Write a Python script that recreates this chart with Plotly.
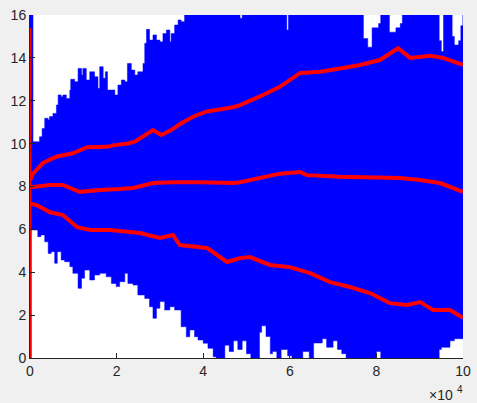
import plotly.graph_objects as go

# x positions are in units of 1e4 samples
upper_x = [0, 0.03, 0.069, 0.146, 0.22, 0.28, 0.34, 0.42, 0.45, 0.53, 0.61, 0.65, 0.72, 0.76, 0.84,
           0.92, 0.94, 1.03, 1.11, 1.19, 1.22, 1.30, 1.38, 1.49, 1.57, 1.61, 1.69, 1.74, 1.79, 1.88,
           1.96, 2.03, 2.11, 2.19, 2.25, 2.34, 2.42, 2.49, 2.61, 2.65, 2.69, 2.76, 2.84, 2.92, 3.0,
           3.07, 3.15, 3.23, 3.26, 3.34, 3.42, 3.49, 3.57,
           4.8, 4.85, 4.9, 5.9, 5.93, 5.97, 7.6, 7.7, 7.8, 7.9, 8.05,
           8.1, 8.25, 8.3, 8.45, 8.55, 8.6, 9.35, 9.45, 9.5, 9.55, 9.7, 9.75, 9.8, 9.9, 9.95, 10]
upper_y = [16, 16, 10.09, 10.09, 10.32, 10.71, 11.18, 11.1, 11.26, 11.41, 11.8, 12.27, 12.19, 12.27, 12.11,
           12.5, 13.0, 12.89, 13.51, 13.2, 13.51, 12.97, 13.35, 13.12, 12.58, 13.59, 13.05, 13.35, 12.5, 12.5,
           12.27, 12.73, 12.97, 12.89, 13.74, 13.43, 13.2, 13.35, 13.74, 14.68, 15.33, 14.83, 15.07, 14.83, 14.75,
           15.14, 15.3, 14.75, 15.14, 15.53, 15.77, 15.69, 16,
           16, 15.85, 16, 16, 15.3, 16, 16, 14.9, 14.5, 15.4, 15.6,
           16, 16, 15.2, 15.4, 15.6, 16, 16, 14.8, 14.3, 16, 16, 15.0, 14.6, 14.8, 15.5, 16]

lower_x = [0, 0.03, 0.069, 0.18, 0.25, 0.34, 0.42, 0.49, 0.57, 0.63, 0.72, 0.80, 0.92, 0.99, 1.11,
           1.19, 1.26, 1.38, 1.49, 1.61, 1.76, 1.88, 1.99, 2.07, 2.19, 2.26, 2.38, 2.49, 2.65, 2.76,
           2.84, 2.92, 3.0, 3.11, 3.23, 3.34, 3.49, 3.61, 3.69, 3.80, 3.88, 4.0, 4.11, 4.23, 4.30,
           4.34, 4.5, 4.6, 4.7, 4.8, 4.9, 5.0, 5.1, 5.15, 5.3, 5.35, 5.45, 5.55, 5.6, 5.7, 5.8,
           5.95, 6.05, 6.3, 6.45, 6.55, 6.75, 6.85, 7.0, 7.1, 7.2, 7.3, 7.4, 8.0, 8.1, 8.3, 9.45, 9.5,
           9.7, 9.8, 10]
lower_y = [0, 0, 5.97, 5.97, 5.66, 5.74, 5.42, 4.88, 4.96, 4.42, 4.96, 4.57, 4.49, 4.26, 3.95,
           3.25, 3.72, 4.1, 3.64, 3.87, 3.95, 3.79, 3.48, 3.33, 3.56, 3.95, 3.48, 3.4, 2.94, 2.78,
           2.39, 1.85, 2.32, 2.63, 2.24, 2.39, 2.24, 1.46, 0.99, 1.31, 0.99, 0.84, 0.69, 0.45, 0.06,
           0, 0, 0.6, 0.3, 0.8, 0.4, 0.8, 0.2, 0, 0, 1.2, 1.5, 1.0, 0.2, 0.3, 0,
           0.4, 0.1, 0, 0.3, 0, 0.7, 0.9, 0.5, 0.8, 0.4, 0.2, 0, 0, 0.3, 0, 0, 0.4,
           0.5, 0.8, 0.9]

hi_x = [0, 0.07, 0.3, 0.62, 0.99, 1.32, 1.78, 1.96, 2.26, 2.42, 2.84, 3.03, 3.26, 3.49, 3.80, 4.09,
        4.69, 4.85, 5.31, 5.77, 6.24, 6.70, 7.16, 7.62, 8.08, 8.50, 8.78, 9.24, 9.54, 10]
hi_y = [8.3, 8.6, 9.1, 9.4, 9.55, 9.83, 9.85, 9.93, 10.01, 10.09, 10.63, 10.4, 10.63, 10.95, 11.29, 11.5,
        11.7, 11.8, 12.2, 12.65, 13.3, 13.35, 13.5, 13.67, 13.9, 14.45, 14.0, 14.1, 14.0, 13.67]

mid_x = [0, 0.07, 0.46, 0.76, 1.15, 1.62, 2.08, 2.38, 2.84, 3.3, 3.93, 4.69, 4.85, 5.31, 5.77, 6.24,
         6.39, 7.16, 7.92, 8.55, 9.01, 9.47, 10]
mid_y = [8.0, 7.98, 8.07, 8.07, 7.75, 7.84, 7.88, 7.93, 8.16, 8.2, 8.2, 8.16, 8.2, 8.4, 8.6, 8.68,
         8.53, 8.45, 8.4, 8.4, 8.3, 8.16, 7.75]

lo_x = [0, 0.15, 0.46, 0.76, 1.09, 1.39, 1.85, 2.24, 2.54, 3.0, 3.3, 3.46, 4.09, 4.55, 4.85, 5.08,
        5.54, 6.0, 6.47, 6.93, 7.39, 7.85, 8.31, 8.71, 9.01, 9.31, 9.7, 10]
lo_y = [7.2, 7.14, 6.8, 6.67, 6.1, 5.97, 5.97, 5.89, 5.83, 5.6, 5.74, 5.27, 5.13, 4.48, 4.66, 4.71,
        4.34, 4.24, 3.96, 3.54, 3.31, 3.03, 2.56, 2.47, 2.61, 2.24, 2.24, 1.87]

start_y = [0, 15.4]

x_ticks = [0, 2, 4, 6, 8, 10]
y_ticks = [0, 2, 4, 6, 8, 10, 12, 14, 16]

fig = go.Figure()

# 青い帯（全サンプル経路の広がり）
band_x = [v * 1e4 for v in upper_x] + [v * 1e4 for v in lower_x[::-1]]
band_y = upper_y + lower_y[::-1]
fig.add_trace(go.Scatter(x=band_x, y=band_y, mode='lines', fill='toself',
                         fillcolor='#0000ff', line=dict(color='#0000ff', width=0.5, shape='hv'),
                         hoverinfo='skip'))

# 赤線（平均 ± 標準偏差）
for xs, ys in [(hi_x, hi_y), (mid_x, mid_y), (lo_x, lo_y)]:
    fig.add_trace(go.Scatter(x=[v * 1e4 for v in xs], y=ys, mode='lines',
                             line=dict(color='#ff0000', width=4)))

fig.add_trace(go.Scatter(x=[0, 0], y=start_y, mode='lines',
                         line=dict(color='#ff0000', width=2.5)))

axis_color = '#262626'
fig.update_layout(
    width=477, height=403,
    paper_bgcolor='#f0f0f0', plot_bgcolor='white',
    margin=dict(l=30, r=14, t=15, b=45),
    showlegend=False,
    font=dict(family='Liberation Sans, Arial, sans-serif', size=14, color=axis_color),
    xaxis=dict(range=[0, 1e5], tickvals=[v * 1e4 for v in x_ticks],
               ticktext=[str(v) for v in x_ticks], ticks='inside', ticklen=5,
               tickcolor=axis_color, showline=True, linecolor=axis_color, linewidth=1,
               showgrid=False, zeroline=False, tickfont=dict(size=14), automargin=False),
    yaxis=dict(range=[0, 16], tickvals=y_ticks, ticks='inside', ticklen=5,
               tickcolor=axis_color, showline=True, linecolor=axis_color, linewidth=1,
               showgrid=False, zeroline=False, tickfont=dict(size=14), automargin=False),
    annotations=[
        # 指数ラベル ×10^4
        dict(text='×10', x=1, y=0, xref='paper', yref='paper', xanchor='right', yanchor='middle',
             xshift=-8, yshift=-37, showarrow=False, font=dict(size=14, color=axis_color)),
        dict(text='4', x=1, y=0, xref='paper', yref='paper', xanchor='left', yanchor='middle',
             xshift=-8, yshift=-31, showarrow=False, font=dict(size=10, color=axis_color)),
    ],
)

fig.write_html("out.html", config={'displayModeBar': False},
               post_script="document.body.style.margin='0'; document.body.style.overflow='hidden';")
